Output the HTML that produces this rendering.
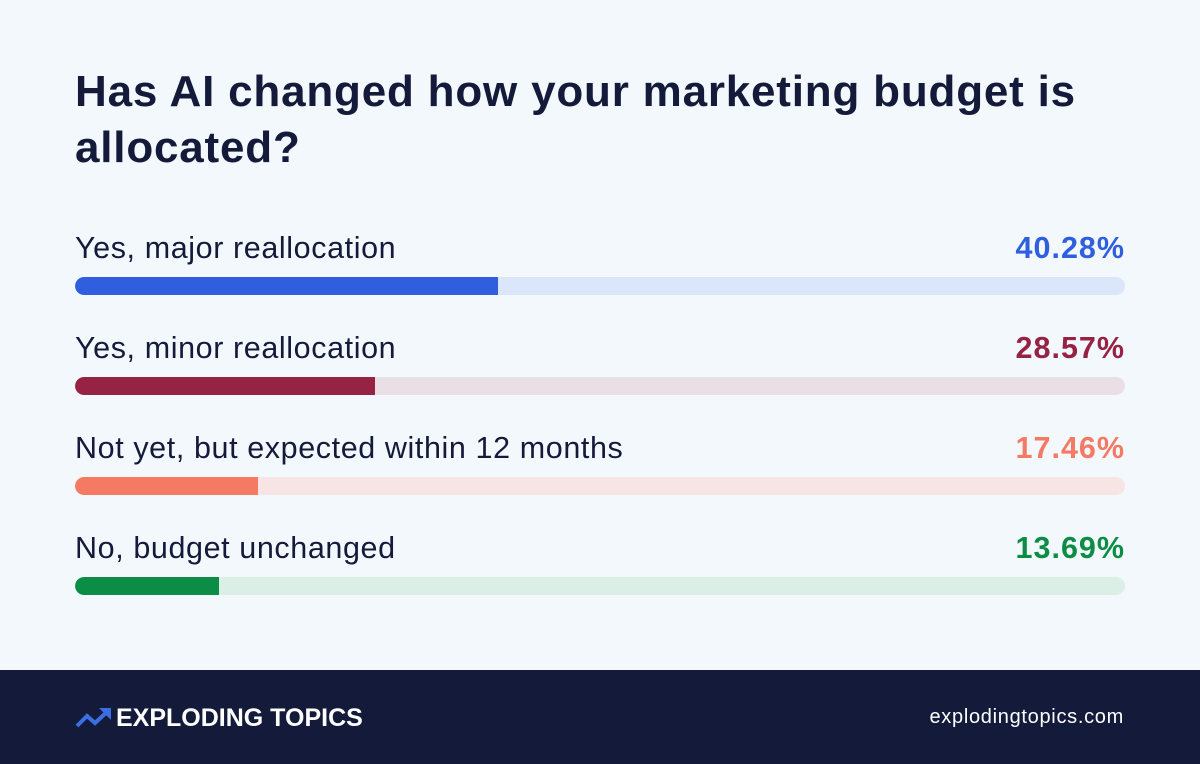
<!DOCTYPE html>
<html><head><meta charset="utf-8">
<style>
body{margin:0;width:1200px;height:764px;overflow:hidden;background:#f3f8fd;font-family:"Liberation Sans",sans-serif;position:relative}
#title{position:absolute;left:75px;top:64px;margin:0;font-size:44px;line-height:56px;font-weight:bold;color:#141a3a;letter-spacing:0.8px}
.row{position:absolute;left:75px;width:1050px;height:70px}
.lab{position:absolute;left:0;top:0;font-size:30.5px;color:#141a3a;line-height:32px;letter-spacing:0.6px}
.val{position:absolute;right:0;top:0;font-size:30.5px;font-weight:bold;line-height:32px;letter-spacing:1px}
.track{position:absolute;left:0;top:45px;width:1050px;height:18px;border-radius:9px;overflow:hidden}
.fill{position:absolute;left:0;top:0;height:18px;border-radius:9px 0 0 9px}
#footer{position:absolute;left:0;top:670px;width:1200px;height:94px;background:#141a3a}
#brand{position:absolute;left:116px;top:34px;color:#fff;font-weight:bold;font-size:25px;letter-spacing:0px}
#url{position:absolute;right:76px;top:36px;color:#fff;font-size:20px;letter-spacing:0.7px}
</style></head><body>
<h1 id="title">Has AI changed how your marketing budget is<br>allocated?</h1>
<div id="chart"></div>
<div id="footer">
<svg style="position:absolute;left:75px;top:36px" width="38" height="22" viewBox="0 0 38 22"><polyline points="2,20 12,10 20,17 34,4" fill="none" stroke="#3b6fe0" stroke-width="4"/><polygon points="24,2 36,2 36,14" fill="#3b6fe0"/></svg>
<div id="brand">EXPLODING TOPICS</div>
<div id="url">explodingtopics.com</div>
</div>
<script>
const categories=["Yes, major reallocation","Yes, minor reallocation","Not yet, but expected within 12 months","No, budget unchanged"];
const values=[40.28,28.57,17.46,13.69];
const valueLabels=["40.28%","28.57%","17.46%","13.69%"];
const colors=["#2f5fdf","#962244","#f47a63","#0b8d46"];
const trackColors=["#dbe6fb","#eadfe5","#f7e5e6","#dcefe7"];
const W=1050;
const x=v=>v/100*W;
const chart=document.getElementById('chart');
categories.forEach((c,i)=>{
 const r=document.createElement('div');r.className='row';r.style.top=(232+i*100)+'px';
 
 
 const l=document.createElement('div');l.className='lab';l.textContent=c;
 
 
 const v=document.createElement('div');v.className='val';v.textContent=valueLabels[i];v.style.color=colors[i];
 
 
 const t=document.createElement('div');t.className='track';t.style.background=trackColors[i];
 
 
 const f=document.createElement('div');f.className='fill';f.style.width=x(values[i])+'px';f.style.background=colors[i];
 
 
 t.appendChild(f);r.appendChild(l);r.appendChild(v);r.appendChild(t);chart.appendChild(r);
});
</script>
</body></html>
